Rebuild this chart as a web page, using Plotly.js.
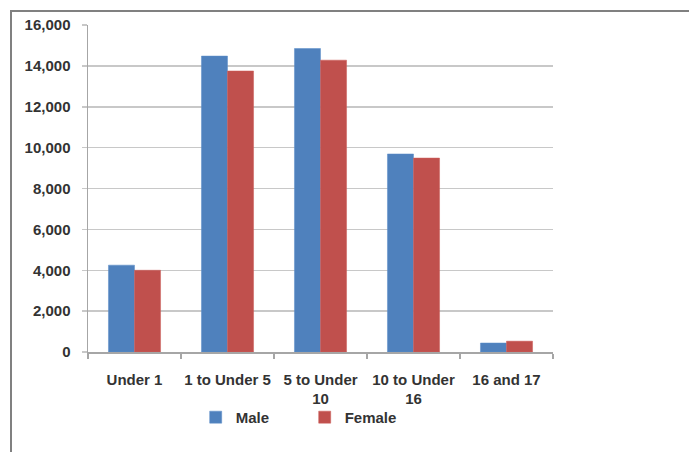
<!DOCTYPE html>
<html>
<head>
<meta charset="utf-8">
<script src="https://cdn.plot.ly/plotly-3.0.1.min.js"></script>
<style>
html,body{margin:0;padding:0;background:#fff;width:689px;height:452px;overflow:hidden;}
#frame{position:absolute;left:10px;top:10px;width:677px;height:440px;border-top:2px solid #808080;border-left:2px solid #808080;}
#chart{width:677px;height:440px;}
</style>
</head>
<body>
<div id="frame"><div id="chart"></div></div>
<script>
var categories = ["Under 1", "1 to Under 5", "5 to Under<br>10", "10 to Under<br>16", "16 and 17"];
var maleValues = [4250, 14480, 14850, 9690, 440];
var femaleValues = [4000, 13750, 14280, 9490, 530];
var yTickValues = [0, 2000, 4000, 6000, 8000, 10000, 12000, 14000, 16000];

var font = {family: "Liberation Sans, Arial, sans-serif", size: 15, color: "#333333", weight: "bold"};

var data = [
  {type: "bar", name: "Male", x: categories, y: maleValues,
   marker: {color: "#4F81BD", line: {color: "#5a8cc8", width: 0.5}}},
  {type: "bar", name: "Female", x: categories, y: femaleValues,
   marker: {color: "#C0504D", line: {color: "#cc5c59", width: 0.5}}}
];

var layout = {
  width: 677, height: 440,
  margin: {l: 76, r: 136, t: 13, b: 100},
  paper_bgcolor: "#fff", plot_bgcolor: "#fff",
  font: font,
  barmode: "group",
  bargap: 0.44,
  bargroupgap: 0,
  showlegend: true,
  legend: {orientation: "h", x: 0.466, xanchor: "center", y: -0.2, yanchor: "middle",
           bgcolor: "rgba(0,0,0,0)",
           font: font, entrywidth: 64, entrywidthmode: "pixels", traceorder: "normal"},
  xaxis: {
    type: "category",
    showgrid: false,
    showline: true, linecolor: "#a6a6a6", linewidth: 1.5,
    ticks: "outside", tickson: "boundaries", ticklen: 5, tickcolor: "#a6a6a6", tickwidth: 1.5,
    tickfont: font, ticklabelstandoff: 13, tickangle: 0,
    fixedrange: true
  },
  yaxis: {
    range: [0, 16000],
    tickvals: yTickValues,
    tickformat: ",",
    showgrid: true, gridcolor: "#c8c8c8", gridwidth: 1.5,
    showline: true, linecolor: "#a6a6a6", linewidth: 1.5,
    ticks: "outside", ticklen: 5, tickcolor: "#c8c8c8", tickwidth: 1.5,
    tickfont: font, ticklabelstandoff: 8,
    zeroline: false,
    fixedrange: true
  }
};

Plotly.newPlot("chart", data, layout, {displayModeBar: false, staticPlot: true});
</script>
</body>
</html>
